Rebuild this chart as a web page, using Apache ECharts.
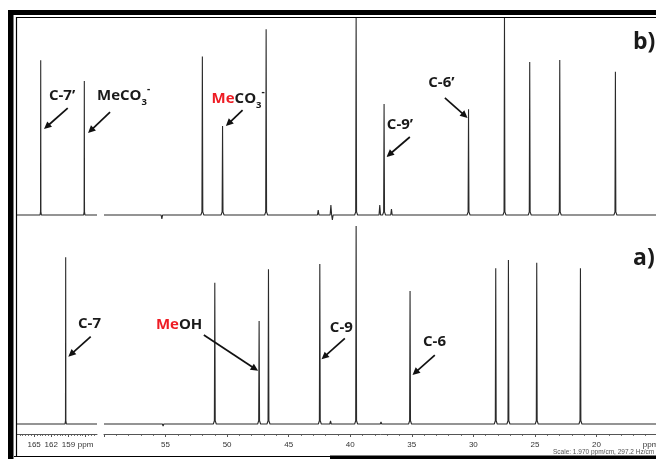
<!DOCTYPE html>
<html>
<head>
<meta charset="utf-8">
<script src="https://cdn.jsdelivr.net/npm/echarts@6/dist/echarts.min.js"></script>
<style>
  html, body { margin: 0; padding: 0; background: #fff; }
  #c { width: 656px; height: 459px; }
</style>
</head>
<body>
<div id="c"></div>
<script>
// 13C spectrum a): peak positions (ppm) and relative heights
const peaksA_ppm = [159.48, 51.0, 47.40, 46.64, 42.47, 39.52, 35.14, 28.18, 27.15, 24.85, 21.30];
const peaksA_int = [81.7, 69.3, 50.5, 75.8, 78.4, 97.0, 65.2, 76.3, 80.4, 79.1, 76.3];
// 13C spectrum b)
const peaksB_ppm = [163.85, 156.22, 52.01, 50.37, 46.83, 39.52, 37.25, 30.39, 27.47, 25.42, 22.98, 18.46];
const peaksB_int = [78.1, 67.7, 80.0, 45.0, 93.8, 100, 56.1, 53.4, 100, 77.3, 78.3, 72.4];
// small baseline features (impurities / artefacts)
const minorA_ppm = [55.2, 41.6, 37.5, 36.2];
const minorA_int = [-1.0, 1.5, 1.0, 0.8];
const minorB_ppm = [55.3, 42.6, 41.57, 41.45, 37.6, 36.65];
const minorB_int = [-2.0, 2.5, 5.0, -2.5, 5.0, 3.0];

// axis labels
const leftTickValues = [165, 162, 159, 156];
const rightTickValues = [55, 50, 45, 40, 35, 30, 25, 20];
const leftRange = [154, 168];
const rightRange = [15, 60];

// annotation labels: tip of arrow in data space, tail and text as pixel offsets from the tip
const annotations = [
  { panel: 'b', side: 0, text: '{k|C-7’}', tip: [163.27, 43.4], tail: [23.7, -21], label: [18, -33], align: 'center' },
  { panel: 'b', side: 0, text: '{k|MeCO}{s|3}{p|-}', tip: [155.57, 41.4], tail: [22, -21], label: [9, -37], align: 'left' },
  { panel: 'b', side: 1, text: '{r|Me}{k|CO}{s|3}{p|-}', tip: [50.10, 44.9], tail: [16.7, -16], label: [-14.3, -27], align: 'left' },
  { panel: 'b', side: 1, text: '{k|C-9’}', tip: [37.05, 29.3], tail: [23.3, -20], label: [0.3, -32], align: 'left' },
  { panel: 'b', side: 1, text: '{k|C-6’}', tip: [30.47, 49.0], tail: [-22.7, -20], label: [-26.2, -35.3], align: 'center' },
  { panel: 'a', side: 0, text: '{k|C-7}', tip: [159.02, 33.0], tail: [22.4, -20], label: [21.2, -32.9], align: 'center' },
  { panel: 'a', side: 1, text: '{r|Me}{k|OH}', tip: [47.48, 26.1], tail: [-54.3, -35.7], label: [-79, -46.4], align: 'center' },
  { panel: 'a', side: 1, text: '{k|C-9}', tip: [42.33, 31.7], tail: [23.3, -21], label: [19.8, -31.3], align: 'center' },
  { panel: 'a', side: 1, text: '{k|C-6}', tip: [34.94, 24.0], tail: [22.3, -20], label: [22, -33.3], align: 'center' }
];

const LINE = '#2a2a2a';
const FONT = '"Open Sans", "Noto Sans", sans-serif';

// Builds the spectrum trace for one axis section: flat baseline with sharp lines at each peak
function trace(ppms, ints, mppm, mint, range) {
  const feats = [];
  ppms.forEach((p, i) => { if (p > range[0] && p < range[1]) feats.push({ p, h: ints[i], major: true }); });
  mppm.forEach((p, i) => { if (p > range[0] && p < range[1]) feats.push({ p, h: mint[i], major: false }); });
  feats.sort((a, b) => b.p - a.p);
  const pts = [[range[1], 0]];
  feats.forEach(f => {
    if (f.major) {
      pts.push([f.p + 0.12, 0], [f.p + 0.035, 1.6], [f.p, f.h], [f.p - 0.035, 1.6], [f.p - 0.12, 0]);
    } else {
      pts.push([f.p + 0.06, 0], [f.p, f.h], [f.p - 0.06, 0]);
    }
  });
  pts.push([range[0], 0]);
  return pts;
}

const chart = echarts.init(document.getElementById('c'), null, { renderer: 'canvas' });

const grids = [
  { left: 17, width: 80, top: 17, bottom: 244 },   // b, carbonyl region
  { left: 104, right: -2, top: 17, bottom: 244 },  // b, aliphatic region
  { left: 17, width: 80, top: 220, bottom: 35 },   // a, carbonyl region
  { left: 104, right: -2, top: 220, bottom: 35 }   // a, aliphatic region
].map(g => Object.assign({ outerBoundsMode: 'none', containLabel: false }, g));

const hiddenX = (g, r) => ({
  gridIndex: g, type: 'value', inverse: true, min: r[0], max: r[1],
  show: false, splitLine: { show: false }
});

const minorLeft = [];
for (let v = leftRange[0] + 0.5; v < leftRange[1]; v += 0.5) {
  if (!leftTickValues.includes(v)) minorLeft.push(v);
}

const axisLabelStyle = { fontSize: 8, color: '#333', fontFamily: '"Liberation Sans", Arial, sans-serif', margin: 7 };
const axisLineStyle = { onZero: false, lineStyle: { color: '#555', width: 1 } };

const option = {
  animation: false,
  backgroundColor: '#fff',
  grid: grids,
  xAxis: [
    hiddenX(0, leftRange),
    hiddenX(1, rightRange),
    {
      gridIndex: 2, type: 'value', position: 'bottom', inverse: true, min: leftRange[0], max: leftRange[1], offset: 10,
      axisLine: axisLineStyle,
      axisTick: { customValues: leftTickValues, length: 3, lineStyle: { color: '#555' } },
      axisLabel: Object.assign({ customValues: leftTickValues, formatter: v => (v === 156 ? 'ppm' : String(v)) }, axisLabelStyle),
      splitLine: { show: false }
    },
    {
      gridIndex: 3, type: 'value', position: 'bottom', inverse: true, min: rightRange[0], max: rightRange[1], interval: 5, offset: 10,
      axisLine: axisLineStyle,
      axisTick: { length: 3, lineStyle: { color: '#555' } },
      minorTick: { show: true, splitNumber: 5, length: 1.8, lineStyle: { color: '#555' } },
      axisLabel: Object.assign({ customValues: rightTickValues.concat([15.6]), formatter: v => (v < 16 ? 'ppm' : String(v)) }, axisLabelStyle),
      splitLine: { show: false }, minorSplitLine: { show: false }
    },
    {
      gridIndex: 2, type: 'value', position: 'bottom', inverse: true, min: leftRange[0], max: leftRange[1], offset: 10,
      axisLine: { show: false, onZero: false },
      axisTick: { customValues: minorLeft, length: 1.8, lineStyle: { color: '#555' } },
      axisLabel: { show: false },
      splitLine: { show: false }
    }
  ],
  yAxis: [0, 1, 2, 3].map(g => ({ gridIndex: g, type: 'value', min: 0, max: 100, show: false, splitLine: { show: false } })),
  series: [
    { xAxisIndex: 0, yAxisIndex: 0, data: trace(peaksB_ppm, peaksB_int, minorB_ppm, minorB_int, leftRange) },
    { xAxisIndex: 1, yAxisIndex: 1, data: trace(peaksB_ppm, peaksB_int, minorB_ppm, minorB_int, rightRange) },
    { xAxisIndex: 2, yAxisIndex: 2, data: trace(peaksA_ppm, peaksA_int, minorA_ppm, minorA_int, leftRange) },
    { xAxisIndex: 3, yAxisIndex: 3, data: trace(peaksA_ppm, peaksA_int, minorA_ppm, minorA_int, rightRange) }
  ].map(s => Object.assign({
    type: 'line', showSymbol: false, symbol: 'none', clip: false, silent: true,
    lineStyle: { color: LINE, width: 1.1 }
  }, s))
};

chart.setOption(option);

// Frame, annotation arrows and labels
const gfx = [];
const Z = 100;
gfx.push({ type: 'rect', z: Z, shape: { x: 8, y: 10, width: 5.5, height: 449 }, style: { fill: '#000' } });
gfx.push({ type: 'rect', z: Z, shape: { x: 8, y: 10, width: 648, height: 5 }, style: { fill: '#000' } });
gfx.push({ type: 'line', z: Z, shape: { x1: 16.5, y1: 17, x2: 16.5, y2: 456 }, style: { stroke: '#000', lineWidth: 1.2 } });
gfx.push({ type: 'line', z: Z, shape: { x1: 16, y1: 17.5, x2: 656, y2: 17.5 }, style: { stroke: '#000', lineWidth: 1.2 } });
gfx.push({ type: 'line', z: Z, shape: { x1: 14, y1: 456.5, x2: 330, y2: 456.5 }, style: { stroke: '#000', lineWidth: 1.2 } });
gfx.push({ type: 'rect', z: Z, shape: { x: 330, y: 455.5, width: 326, height: 4 }, style: { fill: '#000' } });

const rich = {
  k: { fontSize: 15, fontWeight: 'bold', fontFamily: FONT, fill: '#1a1a1a' },
  r: { fontSize: 15, fontWeight: 'bold', fontFamily: FONT, fill: '#ee1c24' },
  s: { fontSize: 9.5, fontWeight: 'bold', fontFamily: FONT, fill: '#1a1a1a', verticalAlign: 'bottom', padding: [0, 0, -4, 0] },
  p: { fontSize: 10, fontWeight: 'bold', fontFamily: FONT, fill: '#1a1a1a', verticalAlign: 'top', padding: [-4, 0, 0, 0] }
};

annotations.forEach(a => {
  const g = (a.panel === 'b' ? 0 : 2) + a.side;
  const tip = chart.convertToPixel({ gridIndex: g }, a.tip);
  const tail = [tip[0] + a.tail[0], tip[1] + a.tail[1]];
  const dx = tip[0] - tail[0], dy = tip[1] - tail[1];
  const L = Math.hypot(dx, dy), ux = dx / L, uy = dy / L;
  const hl = 7.5, hw = 3.6;
  const base = [tip[0] - ux * hl, tip[1] - uy * hl];
  gfx.push({ type: 'line', z: Z, shape: { x1: tail[0], y1: tail[1], x2: base[0] + ux, y2: base[1] + uy }, style: { stroke: '#111', lineWidth: 1.7 } });
  gfx.push({ type: 'polygon', z: Z, shape: { points: [tip, [base[0] - uy * hw, base[1] + ux * hw], [base[0] + uy * hw, base[1] - ux * hw]] }, style: { fill: '#111' } });
  gfx.push({
    type: 'text', z: Z, x: tip[0] + a.label[0], y: tip[1] + a.label[1],
    style: { text: a.text, rich: rich, align: a.align, verticalAlign: 'middle' }
  });
});

gfx.push({ type: 'text', z: Z, x: 633, y: 42, style: { text: 'b)', font: 'bold 23px ' + FONT, fill: '#1a1a1a', align: 'left', verticalAlign: 'middle' } });
gfx.push({ type: 'text', z: Z, x: 633, y: 258, style: { text: 'a)', font: 'bold 23px ' + FONT, fill: '#1a1a1a', align: 'left', verticalAlign: 'middle' } });
gfx.push({ type: 'text', z: Z, x: 553, y: 452.5, style: { text: 'Scale: 1.970 ppm/cm, 297.2 Hz/cm', font: '6.5px "Liberation Sans", Arial, sans-serif', fill: '#555', align: 'left', verticalAlign: 'middle' } });

chart.setOption({ graphic: gfx });
</script>
</body>
</html>
